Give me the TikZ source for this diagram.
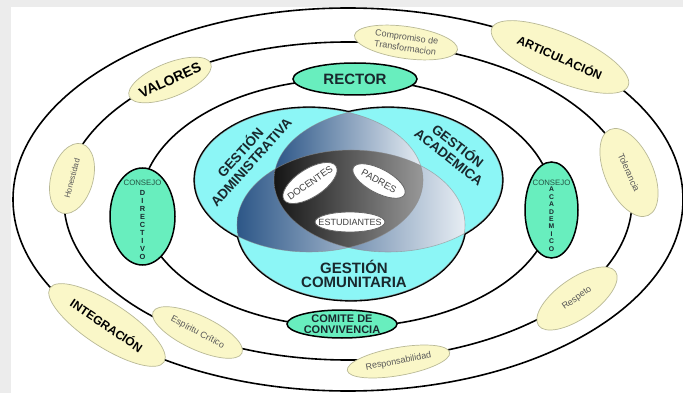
\documentclass[tikz,border=0pt]{standalone}
\usepackage{fontspec}
\setmainfont{Liberation Sans}
\usetikzlibrary{shapes.geometric}

\definecolor{gfill}{RGB}{104,238,190}
\definecolor{yfill}{RGB}{250,247,200}
\definecolor{yline}{RGB}{185,185,150}
\definecolor{vcyan}{RGB}{140,246,246}
\definecolor{lensdark}{RGB}{44,86,135}
\definecolor{lenslight}{RGB}{232,238,244}
\definecolor{ink}{RGB}{25,40,45}
\definecolor{frame}{RGB}{236,236,236}

\begin{document}
\begin{tikzpicture}[x=1pt,y=-1pt,semithick]
  \tikzstyle{orbit}=[draw=black,line width=1.6pt]
  \tikzstyle{gnode}=[ellipse,draw=black,line width=1.5pt,fill=gfill,inner sep=0pt,text=ink,font=\bfseries\fontsize{15}{15}\selectfont]
  \tikzstyle{ynode}=[ellipse,draw=yline,line width=.7pt,fill=yfill,inner sep=0pt]
  \tikzstyle{wnode}=[ellipse,draw=black!60,line width=.8pt,fill=white,inner sep=0pt]
  \tikzstyle{ytxt}=[inner sep=0pt,text=black!65,align=center,font=\fontsize{9}{11}\selectfont]
  \tikzstyle{btxt}=[inner sep=0pt,text=black,font=\bfseries\fontsize{12}{12}\selectfont]
  \tikzstyle{wtxt}=[inner sep=0pt,text=black!75,font=\fontsize{9.5}{10}\selectfont]
  \tikzstyle{vlabel}=[inner sep=0pt,align=center,text=ink,font=\bfseries\fontsize{13.5}{14.5}\selectfont]
  \tikzstyle{consejo}=[inner sep=0pt,text=gfill!35!black,font=\fontsize{7.8}{8}\selectfont]
  \tikzstyle{vert}=[inner sep=0pt,align=center,text=ink,font=\bfseries\fontsize{7.4}{8.1}\selectfont]

  \useasboundingbox (0,0) rectangle (683,393);
  \fill[frame] (0,0) rectangle (683,393);
  \fill[white] (11,7) rectangle (683,393);

  % orbits
  \draw[orbit] (348,199.5) ellipse [x radius=335pt,y radius=191.5pt];
  \draw[orbit] (348,201) ellipse [x radius=284pt,y radius=159pt];
  \draw[orbit] (347,203) ellipse [x radius=206pt,y radius=124pt];

  % three areas
  \coordinate (adm) at (309,180);
  \coordinate (aca) at (388,180);
  \coordinate (com) at (351,225);
  \draw[line width=3.2pt] (adm) ellipse [x radius=114pt,y radius=72pt]
    (aca) ellipse [x radius=114pt,y radius=72pt]
    (com) ellipse [x radius=114pt,y radius=75pt];
  \fill[vcyan] (adm) ellipse [x radius=114pt,y radius=72pt]
    (aca) ellipse [x radius=114pt,y radius=72pt]
    (com) ellipse [x radius=114pt,y radius=75pt];
  \begin{scope}
    \clip (adm) ellipse [x radius=114pt,y radius=72pt];
    \clip (aca) ellipse [x radius=114pt,y radius=72pt];
    \shade[left color=lensdark,right color=lenslight] (274,100) rectangle (424,260);
  \end{scope}
  \begin{scope}
    \clip (adm) ellipse [x radius=114pt,y radius=72pt];
    \clip (com) ellipse [x radius=114pt,y radius=75pt];
    \shade[left color=lensdark,right color=lenslight] (236,140) rectangle (424,305);
  \end{scope}
  \begin{scope}
    \clip (aca) ellipse [x radius=114pt,y radius=72pt];
    \clip (com) ellipse [x radius=114pt,y radius=75pt];
    \shade[left color=lensdark,right color=lenslight] (273,140) rectangle (466,305);
  \end{scope}
  \begin{scope}
    \clip (adm) ellipse [x radius=114pt,y radius=72pt];
    \clip (aca) ellipse [x radius=114pt,y radius=72pt];
    \clip (com) ellipse [x radius=114pt,y radius=75pt];
    \shade[left color=black!92,right color=black!40] (273,145) rectangle (424,260);
  \end{scope}
  \draw[black!45,opacity=.6,line width=.6pt] (adm) ellipse [x radius=114pt,y radius=72pt]
    (aca) ellipse [x radius=114pt,y radius=72pt]
    (com) ellipse [x radius=114pt,y radius=75pt];

  \node[vlabel,rotate=48] (gadm) at (245,157) {GESTIÓN\\ADMINISTRATIVA};
  \node[vlabel,rotate=-38] (gaca) at (454,151) {GESTIÓN\\ACADEMICA};
  \node[vlabel,font=\bfseries\fontsize{15}{14}\selectfont] (gcom) at (354,274) {GESTIÓN\\COMUNITARIA};

  % actors
  \node[wnode,rotate=33,minimum width=62pt,minimum height=28pt] (doc) at (310,183) {};
  \node[wtxt,rotate=35] at (doc) {DOCENTES};
  \node[wnode,rotate=-28,minimum width=58pt,minimum height=24pt] (pad) at (379,181) {};
  \node[wtxt,rotate=-29] at (pad) {PADRES};
  \node[wnode,minimum width=70pt,minimum height=20pt] (est) at (350,222) {};
  \node[wtxt,font=\fontsize{9}{10}\selectfont] at (est) {ESTUDIANTES};

  % green nodes
  \node[gnode,minimum width=124pt,minimum height=32pt] (rector) at (355,79) {RECTOR};
  \node[gnode,minimum width=110pt,minimum height=28pt,align=center,
        font=\bfseries\fontsize{11}{10.5}\selectfont] (comite) at (342,324) {COMITE DE\\CONVIVENCIA};
  \node[gnode,minimum width=65pt,minimum height=97pt] (cdir) at (142.5,216.5) {};
  \node[consejo] at ([yshift=33.8pt]cdir.center) {CONSEJO};
  \node[vert] at ([yshift=-8.5pt]cdir.center) {D\\I\\R\\E\\C\\T\\I\\V\\O};
  \node[gnode,minimum width=53pt,minimum height=96pt] (cacad) at (551.5,210) {};
  \node[consejo] at ([yshift=26.7pt]cacad.center) {CONSEJO};
  \node[vert,font=\bfseries\fontsize{6.8}{7.46}\selectfont] at ([yshift=-9.2pt]cacad.center) {A\\C\\A\\D\\E\\M\\I\\C\\O};

  % yellow nodes
  \node[ynode,rotate=22,minimum width=88pt,minimum height=34pt] (valores) at (170,80) {};
  \node[btxt,rotate=25,font=\bfseries\fontsize{14}{14}\selectfont] at (valores) {VALORES};
  \node[ynode,rotate=-23,minimum width=148pt,minimum height=48pt] (artic) at (560,57) {};
  \node[btxt,rotate=-24] at (artic) {ARTICULACIÓN};
  \node[ynode,rotate=-33,minimum width=136pt,minimum height=44pt] (integ) at (107,325) {};
  \node[btxt,rotate=-34] at (integ) {INTEGRACIÓN};
  \node[ynode,rotate=-8,minimum width=104pt,minimum height=32pt] (compro) at (406,42.5) {};
  \node[ytxt,rotate=-8] at (compro) {Compromiso de\\Transformacion};
  \node[ynode,rotate=74,minimum width=72pt,minimum height=42pt] (hones) at (72,178.5) {};
  \node[ytxt,rotate=75,font=\fontsize{8}{9}\selectfont] at (hones) {Honestidad};
  \node[ynode,rotate=-66,minimum width=94pt,minimum height=48pt] (toler) at (629,172.5) {};
  \node[ytxt,rotate=-66] at (toler) {Tolerancia};
  \node[ynode,rotate=35,minimum width=94pt,minimum height=40pt] (respe) at (577,298.5) {};
  \node[ytxt,rotate=35] at (respe) {Respeto};
  \node[ynode,rotate=10,minimum width=104pt,minimum height=28pt] (respo) at (398.5,361.5) {};
  \node[ytxt,rotate=11] at (respo) {Responsabilidad};
  \node[ynode,rotate=-25,minimum width=98pt,minimum height=34pt] (espir) at (197.5,332.5) {};
  \node[ytxt,rotate=-28] at (espir) {Espíritu Crítico};
\end{tikzpicture}
\end{document}
